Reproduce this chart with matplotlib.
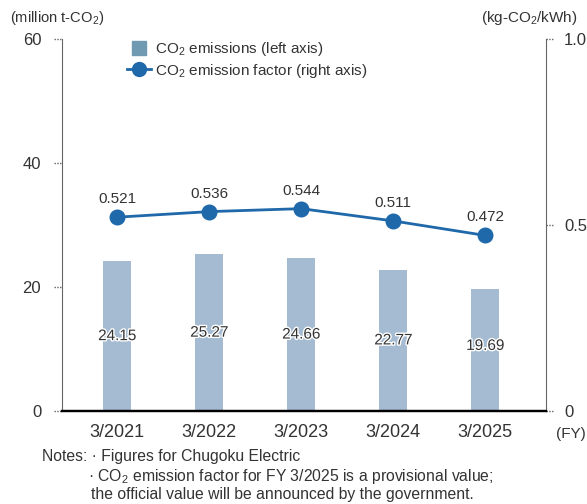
import numpy as np
import matplotlib.pyplot as plt
import matplotlib.patheffects as pe
from matplotlib.lines import Line2D

plt.rcParams['font.family'] = ['Liberation Sans', 'DejaVu Sans']
plt.rcParams['mathtext.fontset'] = 'custom'
plt.rcParams['mathtext.rm'] = 'Liberation Sans'
plt.rcParams['mathtext.it'] = 'Liberation Sans'

# Data
years = ['3/2021', '3/2022', '3/2023', '3/2024', '3/2025']
emissions = [24.15, 25.27, 24.66, 22.77, 19.69]
factor = [0.521, 0.536, 0.544, 0.511, 0.472]
left_ticks = [0, 20, 40, 60]
right_ticks = [0, 0.5, 1.0]
right_tick_labels = ['0', '0.5', '1.0']

bar_color = '#a4bbd1'
legend_bar_color = '#6f9ab2'
line_color = '#1f68aa'
text_color = '#333333'
dot_color = '#666666'

fig = plt.figure(figsize=(5.87, 5.04), dpi=100)
ax = fig.add_axes([0.1056, 0.1845, 0.8245, 0.7381])
ax2 = ax.twinx()

x = np.arange(len(years))
ax.bar(x, emissions, width=0.3, color=bar_color, zorder=2)
ax.set_xlim(-0.6, 4.66)
ax.set_ylim(0, 60)

# bar values, roughly at mid height
for xi, v in zip(x, emissions):
    ax.text(xi, max(v / 2, 10.5), '{:.2f}'.format(v), ha='center', va='center',
            fontsize=11, color=text_color, zorder=4,
            path_effects=[pe.withStroke(linewidth=2, foreground='white')])

ax2.plot(x, factor, color=line_color, lw=2, marker='o', ms=10.5, zorder=3)
ax2.set_ylim(0, 1.0)
for xi, v in zip(x, factor):
    ax2.annotate('{:.3f}'.format(v), (xi, v), xytext=(0, 8), textcoords='offset points',
                 ha='center', va='bottom', fontsize=11, color=text_color)

# spines
for a in (ax, ax2):
    a.spines['top'].set_visible(False)
    a.spines['left'].set_linestyle((0, (1, 1)))
    a.spines['right'].set_linestyle((0, (1, 1)))
    a.spines['left'].set_color(dot_color)
    a.spines['right'].set_color(dot_color)
    a.spines['bottom'].set_color('black')
    a.spines['bottom'].set_linewidth(1.6)
ax2.spines['left'].set_visible(False)
ax.spines['right'].set_visible(False)

ax.set_xticks(x)
ax.set_xticklabels(years, fontsize=13, color=text_color)
ax.tick_params(axis='x', length=0, pad=9)
ax.set_yticks(left_ticks)
ax.set_yticklabels([str(t) for t in left_ticks], fontsize=12, color=text_color)
ax.tick_params(axis='y', length=0, pad=15)
ax2.set_yticks(right_ticks)
ax2.set_yticklabels(right_tick_labels, fontsize=12, color=text_color)
ax2.tick_params(axis='y', length=0, pad=13)

# dotted tick marks
tick_len = 8 / 484
for t in left_ticks:
    ax.plot([-tick_len, 0], [t, t], transform=ax.get_yaxis_transform(), clip_on=False,
            color=dot_color, lw=1, ls=(0, (1, 1)))
for t in right_ticks:
    ax2.plot([1, 1 + tick_len], [t, t], transform=ax2.get_yaxis_transform(), clip_on=False,
             color=dot_color, lw=1, ls=(0, (1, 1)))

# legend
handles = [Line2D([0], [0], color=legend_bar_color, ls='none', marker='s', ms=10),
           Line2D([0], [0], color=line_color, lw=2, marker='o', ms=10)]
labels = ['CO$_2$ emissions (left axis)', 'CO$_2$ emission factor (right axis)']
ax2.legend(handles, labels, loc='upper left', bbox_to_anchor=(0.206, 0.933),
           bbox_transform=fig.transFigure, frameon=False, fontsize=11,
           handlelength=1.6, handletextpad=0.2, labelspacing=0.25,
           borderaxespad=0, labelcolor=text_color)

# axis titles and notes
fig.text(10 / 587, 1 - 18 / 504, '(million t-CO$_2$)', fontsize=10.6, color=text_color,
         ha='left', va='center')
fig.text(578 / 587, 1 - 18 / 504, '(kg-CO$_2$/kWh)', fontsize=11, color=text_color,
         ha='right', va='center')
fig.text(556 / 587, 1 - 434 / 504, '(FY)', fontsize=11, color=text_color, ha='left', va='center')
fig.text(42 / 587, 1 - 457 / 504, 'Notes: \u00b7 Figures for Chugoku Electric', fontsize=11.3,
         color=text_color, ha='left', va='center')
fig.text(88 / 587, 1 - 476 / 504,
         '\u00b7 CO$_2$ emission factor for FY 3/2025 is a provisional value;', fontsize=11.3,
         color=text_color, ha='left', va='center')
fig.text(91 / 587, 1 - 494 / 504,
         'the official value will be announced by the government.', fontsize=11.3,
         color=text_color, ha='left', va='center')

fig.savefig('out.png', dpi=100)
